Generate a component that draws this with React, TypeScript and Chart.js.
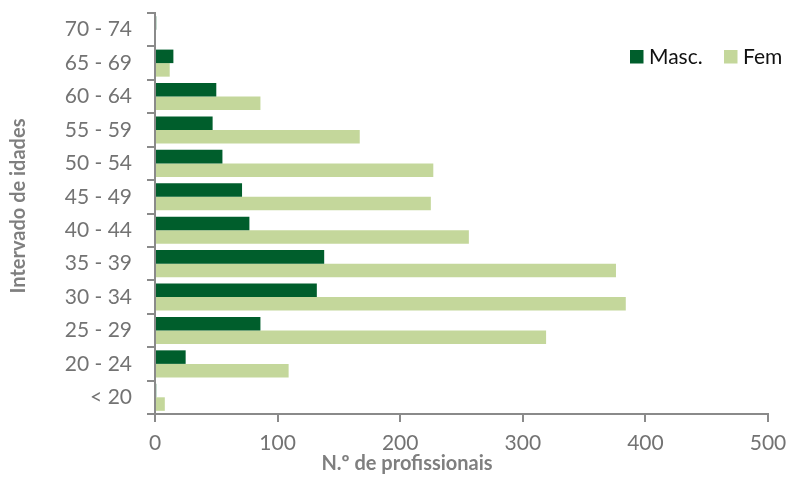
import React, { useEffect, useRef } from "react";
import { Chart, registerables } from "chart.js";

Chart.register(...registerables);

// Age groups, top to bottom
const ageGroups = [
  "70 - 74",
  "65 - 69",
  "60 - 64",
  "55 - 59",
  "50 - 54",
  "45 - 49",
  "40 - 44",
  "35 - 39",
  "30 - 34",
  "25 - 29",
  "20 - 24",
  "< 20",
];

const masculino = [1, 15, 50, 47, 55, 71, 77, 138, 132, 86, 25, 1];
const feminino = [0, 12, 86, 167, 227, 225, 256, 376, 384, 319, 109, 8];

const xTicks = [0, 100, 200, 300, 400, 500];

const xTitle = "N.º de profissionais";
const yTitle = "Intervado de idades";

const DARK_GREEN = "#005E2C";
const LIGHT_GREEN = "#C4D79B";
const AXIS_GREY = "#8A8A8A";
const TEXT_GREY = "#737373";
const TITLE_GREY = "#7F7F7F";
const FONT = "Lato, 'Open Sans', sans-serif";

// Legend drawn inside the plot area, top-right corner
const cornerLegend = {
  id: "cornerLegend",
  afterDraw(chart: Chart) {
    const { ctx, chartArea } = chart;
    const items = [
      { label: "Masc.", color: DARK_GREEN, offset: -138 },
      { label: "Fem", color: LIGHT_GREEN, offset: -44 },
    ];
    ctx.save();
    ctx.font = `21px ${FONT}`;
    ctx.textBaseline = "middle";
    ctx.textAlign = "left";
    const cy = chartArea.top + 43.5;
    for (const it of items) {
      const x = chartArea.right + it.offset;
      ctx.fillStyle = it.color;
      ctx.fillRect(x, cy - 6.5, 13.5, 13.5);
      ctx.fillStyle = "#111111";
      ctx.fillText(it.label, x + 19, cy + 1);
    }
    ctx.restore();
  },
};

// Axis titles, placed beside the axes
const axisTitles = {
  id: "axisTitles",
  afterDraw(chart: Chart) {
    const { ctx, chartArea } = chart;
    ctx.save();
    ctx.font = `bold 20px ${FONT}`;
    ctx.fillStyle = TITLE_GREY;
    ctx.textAlign = "center";
    ctx.textBaseline = "alphabetic";
    ctx.fillText(xTitle, chartArea.left + 252, chartArea.bottom + 56);
    ctx.translate(25, chartArea.top + 193);
    ctx.rotate(-Math.PI / 2);
    ctx.fillText(yTitle, 0, 0);
    ctx.restore();
  },
};

export default function App() {
  const canvasRef = useRef<HTMLCanvasElement | null>(null);

  useEffect(() => {
    if (!canvasRef.current) return;
    const chart = new Chart(canvasRef.current, {
      type: "bar",
      data: {
        labels: ageGroups,
        datasets: [
          {
            label: "Masc.",
            data: masculino,
            backgroundColor: DARK_GREEN,
            categoryPercentage: 0.81,
            barPercentage: 1,
          },
          {
            label: "Fem",
            data: feminino,
            backgroundColor: LIGHT_GREEN,
            categoryPercentage: 0.81,
            barPercentage: 1,
          },
        ],
      },
      options: {
        indexAxis: "y",
        animation: false,
        responsive: false,
        maintainAspectRatio: false,
        layout: { padding: { left: 0, right: 19, top: 13, bottom: 0 } },
        plugins: {
          legend: { display: false },
          tooltip: { enabled: false },
        },
        scales: {
          x: {
            min: 0,
            max: 500,
            afterBuildTicks: (scale: any) => {
              scale.ticks = xTicks.map((v) => ({ value: v }));
            },
            afterFit: (scale: any) => {
              scale.height = 67;
              scale.paddingLeft = 0;
              scale.paddingRight = 0;
            },
            border: { display: true, color: AXIS_GREY, width: 2 },
            grid: {
              drawOnChartArea: false,
              drawTicks: true,
              tickLength: 8,
              color: AXIS_GREY,
              lineWidth: 2,
            },
            ticks: {
              color: TEXT_GREY,
              font: { family: FONT, size: 21 },
              padding: 9,
              maxRotation: 0,
            },
          },
          y: {
            afterFit: (scale: any) => {
              scale.width = 155;
              scale.paddingTop = 0;
              scale.paddingBottom = 0;
            },
            border: { display: true, color: AXIS_GREY, width: 2 },
            grid: {
              drawOnChartArea: false,
              drawTicks: true,
              tickLength: 8,
              color: AXIS_GREY,
              lineWidth: 2,
              offset: true,
            },
            ticks: {
              color: TEXT_GREY,
              font: { family: FONT, size: 21 },
              padding: 15,
            },
          },
        },
      },
      plugins: [cornerLegend, axisTitles],
    });
    return () => chart.destroy();
  }, []);

  return (
    <div
      style={{
        position: "fixed",
        left: 0,
        top: 0,
        width: 787,
        height: 481,
        background: "#FFFFFF",
      }}
    >
      <canvas ref={canvasRef} width={787} height={481} />
    </div>
  );
}
